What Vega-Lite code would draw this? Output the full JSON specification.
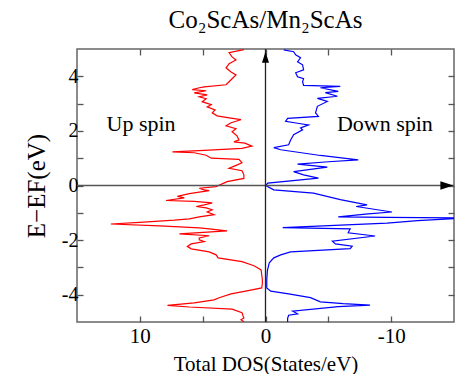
{
  "$schema": "https://vega.github.io/schema/vega-lite/v6.json",
  "width": 377,
  "height": 273,
  "autosize": {"type": "none"},
  "padding": {"left": 77, "top": 49, "right": 1, "bottom": 52},
  "config": {
    "font": "Liberation Serif",
    "view": {"stroke": "#666", "strokeWidth": 1.5},
    "axis": {"grid": false, "domain": false, "tickColor": "#555", "tickWidth": 1.3, "labelColor": "#000", "titleColor": "#000", "labelFont": "Liberation Serif", "titleFont": "Liberation Serif", "titleFontWeight": "normal"}
  },
  "title": {"text": "Co₂ScAs/Mn₂ScAs", "fontSize": 25, "fontWeight": "normal", "font": "Liberation Serif", "color": "#000", "offset": 15},
  "resolve": {"axis": {"x": "independent", "y": "independent"}},
  "datasets": {
    "dos": [
      {"spin":"Up","energy":4.98,"dos":1.72},{"spin":"Up","energy":4.87,"dos":2.90},{"spin":"Up","energy":4.71,"dos":2.66},{"spin":"Up","energy":4.60,"dos":2.35},{"spin":"Up","energy":4.46,"dos":2.90},{"spin":"Up","energy":4.31,"dos":3.14},{"spin":"Up","energy":4.16,"dos":2.74},{"spin":"Up","energy":4.05,"dos":2.35},{"spin":"Up","energy":3.91,"dos":2.66},{"spin":"Up","energy":3.80,"dos":2.90},{"spin":"Up","energy":3.69,"dos":3.14},{"spin":"Up","energy":3.61,"dos":4.88},{"spin":"Up","energy":3.58,"dos":5.27},{"spin":"Up","energy":3.51,"dos":5.83},{"spin":"Up","energy":3.47,"dos":4.72},{"spin":"Up","energy":3.39,"dos":5.67},{"spin":"Up","energy":3.32,"dos":4.64},{"spin":"Up","energy":3.25,"dos":5.27},{"spin":"Up","energy":3.18,"dos":4.72},{"spin":"Up","energy":3.07,"dos":5.04},{"spin":"Up","energy":2.96,"dos":4.32},{"spin":"Up","energy":2.88,"dos":4.64},{"spin":"Up","energy":2.77,"dos":4.01},{"spin":"Up","energy":2.66,"dos":4.24},{"spin":"Up","energy":2.55,"dos":3.85},{"spin":"Up","energy":2.48,"dos":2.90},{"spin":"Up","energy":2.41,"dos":1.95},{"spin":"Up","energy":2.30,"dos":2.74},{"spin":"Up","energy":2.19,"dos":3.14},{"spin":"Up","energy":2.08,"dos":2.35},{"spin":"Up","energy":1.97,"dos":2.66},{"spin":"Up","energy":1.82,"dos":2.27},{"spin":"Up","energy":1.67,"dos":2.11},{"spin":"Up","energy":1.60,"dos":2.51},{"spin":"Up","energy":1.55,"dos":1.64},{"spin":"Up","energy":1.44,"dos":1.08},{"spin":"Up","energy":1.36,"dos":1.87},{"spin":"Up","energy":1.29,"dos":4.88},{"spin":"Up","energy":1.23,"dos":7.41},{"spin":"Up","energy":1.20,"dos":5.67},{"spin":"Up","energy":1.11,"dos":4.72},{"spin":"Up","energy":1.00,"dos":4.32},{"spin":"Up","energy":0.96,"dos":2.11},{"spin":"Up","energy":0.83,"dos":1.87},{"spin":"Up","energy":0.72,"dos":2.43},{"spin":"Up","energy":0.63,"dos":2.90},{"spin":"Up","energy":0.54,"dos":1.87},{"spin":"Up","energy":0.39,"dos":1.72},{"spin":"Up","energy":0.26,"dos":1.72},{"spin":"Up","energy":0.14,"dos":3.06},{"spin":"Up","energy":0.04,"dos":3.53},{"spin":"Up","energy":-0.04,"dos":3.95},{"spin":"Up","energy":-0.10,"dos":5.27},{"spin":"Up","energy":-0.16,"dos":4.88},{"spin":"Up","energy":-0.19,"dos":4.48},{"spin":"Up","energy":-0.30,"dos":6.06},{"spin":"Up","energy":-0.40,"dos":7.01},{"spin":"Up","energy":-0.45,"dos":6.46},{"spin":"Up","energy":-0.55,"dos":7.91},{"spin":"Up","energy":-0.58,"dos":5.67},{"spin":"Up","energy":-0.64,"dos":4.24},{"spin":"Up","energy":-0.71,"dos":4.88},{"spin":"Up","energy":-0.77,"dos":5.51},{"spin":"Up","energy":-0.82,"dos":4.72},{"spin":"Up","energy":-0.89,"dos":4.24},{"spin":"Up","energy":-0.97,"dos":4.64},{"spin":"Up","energy":-1.07,"dos":4.09},{"spin":"Up","energy":-1.15,"dos":5.27},{"spin":"Up","energy":-1.22,"dos":6.06},{"spin":"Up","energy":-1.27,"dos":7.25},{"spin":"Up","energy":-1.35,"dos":10.02},{"spin":"Up","energy":-1.41,"dos":12.31},{"spin":"Up","energy":-1.48,"dos":8.43},{"spin":"Up","energy":-1.55,"dos":5.27},{"spin":"Up","energy":-1.59,"dos":4.48},{"spin":"Up","energy":-1.66,"dos":3.06},{"spin":"Up","energy":-1.77,"dos":6.85},{"spin":"Up","energy":-1.84,"dos":4.48},{"spin":"Up","energy":-1.92,"dos":5.27},{"spin":"Up","energy":-1.99,"dos":5.27},{"spin":"Up","energy":-2.05,"dos":4.88},{"spin":"Up","energy":-2.14,"dos":5.91},{"spin":"Up","energy":-2.23,"dos":6.22},{"spin":"Up","energy":-2.32,"dos":5.91},{"spin":"Up","energy":-2.43,"dos":4.48},{"spin":"Up","energy":-2.54,"dos":3.93},{"spin":"Up","energy":-2.65,"dos":3.77},{"spin":"Up","energy":-2.79,"dos":1.87},{"spin":"Up","energy":-2.94,"dos":0.92},{"spin":"Up","energy":-3.09,"dos":0.35},{"spin":"Up","energy":-3.27,"dos":0.3},{"spin":"Up","energy":-3.45,"dos":0.25},{"spin":"Up","energy":-3.60,"dos":0.25},{"spin":"Up","energy":-3.75,"dos":0.3},{"spin":"Up","energy":-3.86,"dos":1.48},{"spin":"Up","energy":-3.97,"dos":2.74},{"spin":"Up","energy":-4.11,"dos":3.69},{"spin":"Up","energy":-4.19,"dos":4.09},{"spin":"Up","energy":-4.30,"dos":5.67},{"spin":"Up","energy":-4.39,"dos":7.80},{"spin":"Up","energy":-4.45,"dos":6.06},{"spin":"Up","energy":-4.53,"dos":2.66},{"spin":"Up","energy":-4.66,"dos":1.87},{"spin":"Up","energy":-4.77,"dos":1.79},{"spin":"Up","energy":-4.85,"dos":1.72},{"spin":"Up","energy":-4.92,"dos":1.95},{"spin":"Up","energy":-4.99,"dos":1.72},
      {"spin":"Down","energy":4.97,"dos":-1.45},{"spin":"Down","energy":4.90,"dos":-2.24},{"spin":"Down","energy":4.79,"dos":-2.40},{"spin":"Down","energy":4.68,"dos":-2.79},{"spin":"Down","energy":4.53,"dos":-2.55},{"spin":"Down","energy":4.42,"dos":-2.95},{"spin":"Down","energy":4.24,"dos":-3.03},{"spin":"Down","energy":4.13,"dos":-2.40},{"spin":"Down","energy":3.98,"dos":-2.55},{"spin":"Down","energy":3.91,"dos":-3.03},{"spin":"Down","energy":3.80,"dos":-2.95},{"spin":"Down","energy":3.67,"dos":-3.03},{"spin":"Down","energy":3.63,"dos":-5.95},{"spin":"Down","energy":3.58,"dos":-4.37},{"spin":"Down","energy":3.45,"dos":-5.79},{"spin":"Down","energy":3.40,"dos":-4.76},{"spin":"Down","energy":3.27,"dos":-5.72},{"spin":"Down","energy":3.19,"dos":-4.13},{"spin":"Down","energy":3.08,"dos":-4.92},{"spin":"Down","energy":2.90,"dos":-4.13},{"spin":"Down","energy":2.66,"dos":-3.98},{"spin":"Down","energy":2.53,"dos":-4.21},{"spin":"Down","energy":2.46,"dos":-1.76},{"spin":"Down","energy":2.35,"dos":-1.60},{"spin":"Down","energy":2.28,"dos":-2.55},{"spin":"Down","energy":2.22,"dos":-3.42},{"spin":"Down","energy":2.11,"dos":-2.79},{"spin":"Down","energy":2.04,"dos":-2.95},{"spin":"Down","energy":1.86,"dos":-2.24},{"spin":"Down","energy":1.67,"dos":-2.00},{"spin":"Down","energy":1.49,"dos":-1.84},{"spin":"Down","energy":1.39,"dos":-0.66},{"spin":"Down","energy":1.31,"dos":-1.21},{"spin":"Down","energy":1.10,"dos":-4.37},{"spin":"Down","energy":0.94,"dos":-7.38},{"spin":"Down","energy":0.87,"dos":-5.0},{"spin":"Down","energy":0.78,"dos":-2.55},{"spin":"Down","energy":0.67,"dos":-4.92},{"spin":"Down","energy":0.51,"dos":-2.24},{"spin":"Down","energy":0.39,"dos":-3.03},{"spin":"Down","energy":0.27,"dos":-4.21},{"spin":"Down","energy":0.09,"dos":-0.18},{"spin":"Down","energy":0.0,"dos":-0.02},{"spin":"Down","energy":-0.16,"dos":-0.66},{"spin":"Down","energy":-0.28,"dos":-3.82},{"spin":"Down","energy":-0.52,"dos":-5.95},{"spin":"Down","energy":-0.71,"dos":-8.08},{"spin":"Down","energy":-0.77,"dos":-7.22},{"spin":"Down","energy":-0.97,"dos":-10.06},{"spin":"Down","energy":-1.04,"dos":-8.16},{"spin":"Down","energy":-1.15,"dos":-5.79},{"spin":"Down","energy":-1.17,"dos":-9.75},{"spin":"Down","energy":-1.19,"dos":-16},{"spin":"Down","energy":-1.29,"dos":-12.1},{"spin":"Down","energy":-1.38,"dos":-9.67},{"spin":"Down","energy":-1.54,"dos":-1.37},{"spin":"Down","energy":-1.59,"dos":-6.74},{"spin":"Down","energy":-1.66,"dos":-6.66},{"spin":"Down","energy":-1.73,"dos":-6.58},{"spin":"Down","energy":-1.85,"dos":-8.72},{"spin":"Down","energy":-2.04,"dos":-5.32},{"spin":"Down","energy":-2.14,"dos":-5.56},{"spin":"Down","energy":-2.22,"dos":-6.90},{"spin":"Down","energy":-2.31,"dos":-6.74},{"spin":"Down","energy":-2.43,"dos":-2.00},{"spin":"Down","energy":-2.54,"dos":-1.21},{"spin":"Down","energy":-2.65,"dos":-0.66},{"spin":"Down","energy":-2.83,"dos":-0.3},{"spin":"Down","energy":-3.12,"dos":-0.15},{"spin":"Down","energy":-3.45,"dos":-0.1},{"spin":"Down","energy":-3.75,"dos":-0.1},{"spin":"Down","energy":-3.87,"dos":-0.42},{"spin":"Down","energy":-3.97,"dos":-1.84},{"spin":"Down","energy":-4.11,"dos":-3.58},{"spin":"Down","energy":-4.26,"dos":-4.37},{"spin":"Down","energy":-4.33,"dos":-6.19},{"spin":"Down","energy":-4.38,"dos":-8.32},{"spin":"Down","energy":-4.44,"dos":-5.79},{"spin":"Down","energy":-4.60,"dos":-2.16},{"spin":"Down","energy":-4.70,"dos":-2.55},{"spin":"Down","energy":-4.75,"dos":-1.84},{"spin":"Down","energy":-4.87,"dos":-1.76},{"spin":"Down","energy":-5.03,"dos":-1.76}
    ],
    "one": [{}]
  },
  "layer": [
    {
      "data": {"name": "dos"},
      "mark": {"type": "line", "clip": true, "strokeWidth": 1.2},
      "encoding": {
        "x": {"field": "dos", "type": "quantitative", "scale": {"domain": [-15, 15], "reverse": true, "nice": false, "zero": false},
              "axis": {"orient": "bottom", "values": [-10, -5, 0, 5, 10], "labelExpr": "datum.value % 10 === 0 ? '' + datum.value : ''", "tickSize": -6, "labelPadding": 9, "labelFontSize": 21, "title": "Total DOS(States/eV)", "titleFontSize": 21, "titlePadding": 7}},
        "y": {"field": "energy", "type": "quantitative", "scale": {"domain": [-5, 5], "nice": false, "zero": false},
              "axis": {"orient": "left", "values": [-4, -3, -2, -1, 0, 1, 2, 3, 4], "labelExpr": "datum.value % 2 === 0 ? '' + datum.value : ''", "tickSize": -6, "labelPadding": 5, "labelFontSize": 20, "title": "E−EF(eV)", "titleFontSize": 25, "titlePadding": 12}},
        "color": {"field": "spin", "type": "nominal", "scale": {"domain": ["Up", "Down"], "range": ["#ff0000", "#0000ff"]}, "legend": null},
        "order": {"field": "energy", "type": "quantitative"}
      }
    },
    {
      "data": {"name": "one"},
      "mark": {"type": "rule", "color": "#555", "strokeWidth": 1.5},
      "encoding": {
        "y": {"datum": 0, "type": "quantitative", "axis": {"orient": "right", "values": [-4, -3, -2, -1, 0, 1, 2, 3, 4], "labels": false, "tickSize": -6, "title": null}}
      }
    },
    {
      "data": {"name": "one"},
      "mark": {"type": "rule", "color": "#222", "strokeWidth": 1.3},
      "encoding": {
        "x": {"datum": 0, "type": "quantitative", "axis": {"orient": "top", "values": [-10, -5, 0, 5, 10], "labels": false, "tickSize": -6, "title": null}}
      }
    },
    {
      "data": {"name": "one"},
      "mark": {"type": "point", "shape": "M0,0L0.32,1L-0.32,1Z", "size": 484, "filled": true, "color": "#000", "opacity": 1, "strokeWidth": 0},
      "encoding": {"x": {"datum": 0, "type": "quantitative", "axis": null}, "y": {"datum": 4.9, "type": "quantitative", "axis": null}}
    },
    {
      "data": {"name": "one"},
      "mark": {"type": "point", "shape": "M0,0L-1,-0.32L-1,0.32Z", "size": 676, "filled": true, "color": "#000", "opacity": 1, "strokeWidth": 0},
      "encoding": {"x": {"datum": -14.95, "type": "quantitative", "axis": null}, "y": {"datum": 0, "type": "quantitative", "axis": null}}
    },
    {
      "data": {"name": "one"},
      "mark": {"type": "text", "text": "Up spin", "fontSize": 22, "font": "Liberation Serif", "color": "#000"},
      "encoding": {"x": {"datum": 9.9, "type": "quantitative", "axis": null}, "y": {"datum": 2.25, "type": "quantitative", "axis": null}}
    },
    {
      "data": {"name": "one"},
      "mark": {"type": "text", "text": "Down spin", "fontSize": 22, "font": "Liberation Serif", "color": "#000"},
      "encoding": {"x": {"datum": -9.5, "type": "quantitative", "axis": null}, "y": {"datum": 2.25, "type": "quantitative", "axis": null}}
    }
  ]
}
